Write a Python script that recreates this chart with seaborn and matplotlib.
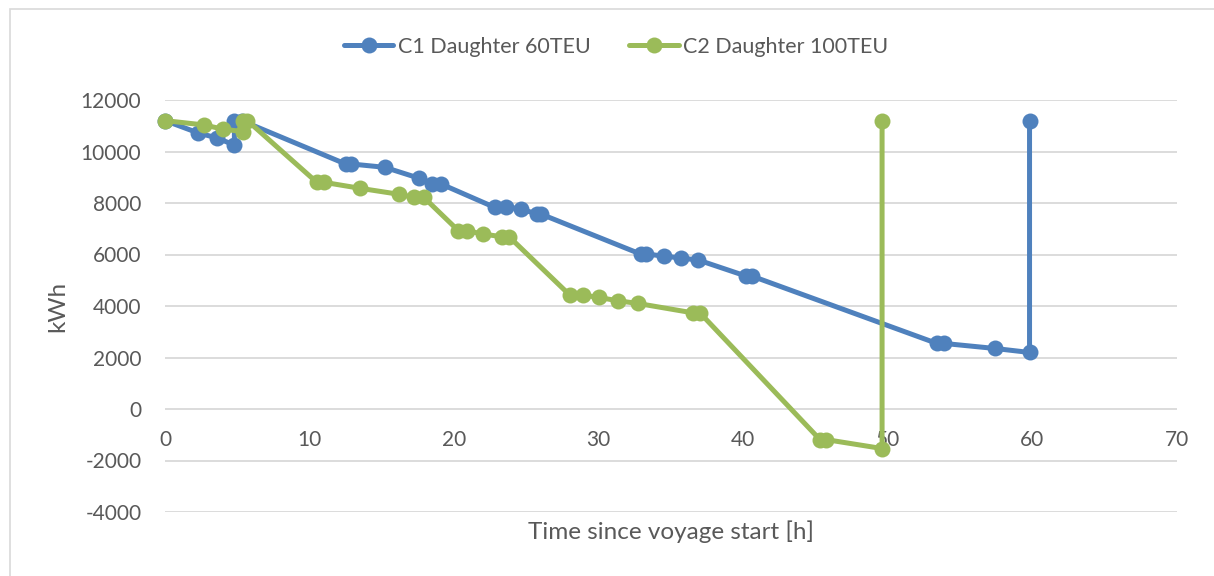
import matplotlib
matplotlib.use("Agg")
import matplotlib.pyplot as plt
from matplotlib.lines import Line2D
from matplotlib.patches import Rectangle
import seaborn as sns
import pandas as pd

# ---- data ----
c1_label = "C1 Daughter 60TEU"
c1_time = [0, 2.3, 3.6, 4.8, 4.8, 5.3, 12.5, 12.9, 15.2, 17.6, 18.5, 19.1,
           22.8, 23.6, 24.6, 25.7, 26.0, 32.9, 33.3, 34.5, 35.7, 36.9,
           40.2, 40.6, 53.4, 53.9, 57.4, 59.8, 59.8]
c1_kwh = [11200, 10720, 10525, 10250, 11200, 11200, 9514, 9514, 9386, 8958, 8737, 8737,
          7831, 7831, 7777, 7571, 7571, 6016, 6016, 5939, 5861, 5783,
          5161, 5161, 2545, 2545, 2351, 2196, 11200]

c2_label = "C2 Daughter 100TEU"
c2_time = [0, 2.7, 4.0, 5.4, 5.4, 5.7, 10.5, 11.0, 13.5, 16.2, 17.2, 17.9,
           20.3, 20.9, 22.0, 23.3, 23.8, 28.0, 28.9, 30.0, 31.35, 32.7,
           36.5, 37.0, 45.3, 45.7, 49.6, 49.6]
c2_kwh = [11200, 11030, 10870, 10770, 11200, 11200, 8803, 8803, 8570, 8337, 8220, 8220,
          6922, 6922, 6794, 6690, 6690, 4423, 4423, 4333, 4201, 4100,
          3735, 3735, -1186, -1186, -1535, 11200]

x_ticks = [0, 10, 20, 30, 40, 50, 60, 70]
y_ticks = [-4000, -2000, 0, 2000, 4000, 6000, 8000, 10000, 12000]
x_label = "Time since voyage start [h]"
y_label = "kWh"

colors = {c1_label: "#4F81BD", c2_label: "#9BBB59"}
text_color = "#595959"
grid_color = "#D9D9D9"

df = pd.concat([
    pd.DataFrame({"t": c1_time, "kwh": c1_kwh, "series": c1_label}),
    pd.DataFrame({"t": c2_time, "kwh": c2_kwh, "series": c2_label}),
], ignore_index=True)

# ---- style ----
sns.set_theme(style="white")
plt.rcParams["font.family"] = ["Lato", "DejaVu Sans"]

W, H = 1214, 576
fig = plt.figure(figsize=(W / 100, H / 100), dpi=100)
ax = fig.add_axes([165 / W, 1 - 512 / H, (1177 - 165) / W, (512 - 100) / H])

sns.lineplot(data=df, x="t", y="kwh", hue="series", palette=colors, sort=False,
             estimator=None, units="series", marker="o", markersize=11.5,
             markeredgewidth=0, linewidth=3.6, legend=False, ax=ax)
for ln in ax.get_lines():
    ln.set_clip_on(False)
    ln.set_zorder(3)

ax.set_xlim(0, 70)
ax.set_ylim(-4000, 12000)
ax.set_xticks(x_ticks)
ax.set_yticks(y_ticks)
ax.set_xticklabels([str(v) for v in x_ticks])
ax.set_yticklabels([str(v) for v in y_ticks])

ax.grid(axis="y", color=grid_color, linewidth=1.3)
ax.grid(axis="x", visible=False)
ax.set_axisbelow(True)
for s in ax.spines.values():
    s.set_visible(False)
ax.spines["bottom"].set_position(("data", 0))

ax.tick_params(axis="x", length=0, pad=15, labelsize=15, labelcolor=text_color)
ax.tick_params(axis="y", length=0, pad=17, labelsize=15, labelcolor=text_color)

ax.set_xlabel(x_label, fontsize=17.5, color=text_color)
ax.xaxis.set_label_coords(0.5, -0.0485)
ax.xaxis.label.set_va("center")
ax.set_ylabel(y_label, fontsize=17.5, color=text_color)
ax.yaxis.set_label_coords(-0.1057, 0.5)
ax.yaxis.label.set_va("center")

handles = [Line2D([], [], color=colors[c1_label], lw=3.6, marker="o", markersize=11.5, markeredgewidth=0),
           Line2D([], [], color=colors[c2_label], lw=3.6, marker="o", markersize=11.5, markeredgewidth=0)]
fig.legend(handles, [c1_label, c2_label], loc="center", bbox_to_anchor=(616 / W, 1 - 47 / H),
           ncol=2, frameon=False, handlelength=2.3, handletextpad=0.2, columnspacing=1.8,
           fontsize=15.5, labelcolor=text_color)

fig.add_artist(Rectangle((10 / W, -0.05), 1.1, 1.05 - 9 / H, transform=fig.transFigure,
                         fill=False, edgecolor=grid_color, linewidth=1.2))

fig.savefig("out.png", dpi=100, facecolor="white")
